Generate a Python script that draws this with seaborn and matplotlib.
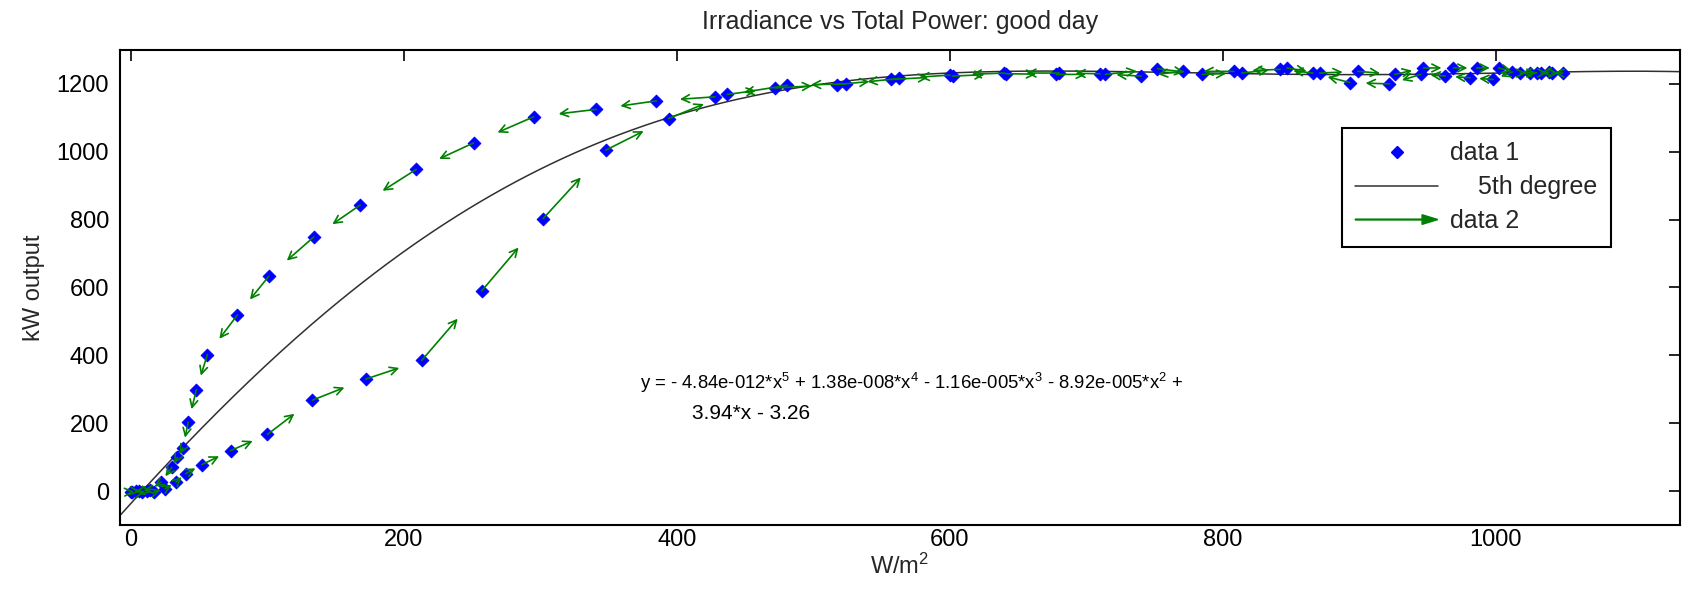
import numpy as np
import matplotlib
matplotlib.use("Agg")
import matplotlib.pyplot as plt
import matplotlib.patches as mpatches
from matplotlib.lines import Line2D
from matplotlib.legend_handler import HandlerPatch
import seaborn as sns

# ---- données (ordre chronologique de la journée) ----
# matin : branche basse, la puissance monte
irr_matin = [0, 4, 8, 12, 17, 25, 33, 40, 52, 73, 100, 133, 172, 213, 257,
             302, 348, 394, 437, 472, 517, 557, 602, 641, 678, 714, 752, 785,
             814, 847, 871, 899, 926, 947, 969, 986, 1002, 1018, 1025, 1033,
             1041, 1049]
kw_matin = [-2, -1, -3, 0, -3, 7, 26, 51, 78, 119, 167, 268, 330, 385, 590,
            803, 1005, 1098, 1169, 1188, 1198, 1213, 1223, 1230, 1228, 1228,
            1245, 1228, 1232, 1247, 1232, 1237, 1228, 1247, 1247, 1247, 1247,
            1232, 1232, 1232, 1232, 1232]

# après-midi : branche haute, la puissance redescend
irr_soir = [1039, 1030, 1012, 998, 981, 963, 945, 922, 893, 866, 842, 808,
            771, 740, 710, 680, 640, 600, 563, 524, 481, 428, 385, 341, 295,
            251, 209, 168, 134, 101, 78, 56, 48, 42, 38, 34, 30, 22, 14, 6, 1]
kw_soir = [1235, 1233, 1235, 1213, 1218, 1223, 1228, 1200, 1204, 1232, 1243,
           1237, 1237, 1223, 1230, 1232, 1232, 1226, 1216, 1200, 1196, 1162,
           1150, 1125, 1103, 1026, 948, 843, 749, 633, 519, 402, 299, 203,
           127, 99, 70, 26, 4, 0, -2]

irr = np.array(irr_matin + irr_soir, dtype=float)
kw = np.array(kw_matin + kw_soir, dtype=float)

# ---- style ----
sns.set_theme(style="white")
plt.rcParams['font.family'] = ['Liberation Sans', 'DejaVu Sans']
plt.rcParams['mathtext.fontset'] = 'custom'
plt.rcParams['mathtext.rm'] = 'Liberation Sans'
plt.rcParams['mathtext.it'] = 'Liberation Sans'

fig = plt.figure(figsize=(16.88, 6.05), dpi=100)
ax = fig.add_axes([0.0711, 0.1322, 0.9242, 0.7852])

# data 1 : points
sns.scatterplot(x=irr, y=kw, marker='D', s=42, color='blue', edgecolor='blue',
                linewidth=0.7, ax=ax, zorder=3, legend=False)

# ajustement polynomial de degré 5
coef = np.polyfit(irr, kw, 5)
x_fit = np.linspace(-8, 1135, 400)
sns.lineplot(x=x_fit, y=np.polyval(coef, x_fit), color='#303030', lw=1.1,
             ax=ax, zorder=2, sort=False, estimator=None, legend=False)

# data 2 : flèches vers le point suivant
for i in range(len(irr) - 1):
    dx = irr[i + 1] - irr[i]
    dy = kw[i + 1] - kw[i]
    ax.annotate("", xy=(irr[i] + 0.6 * dx, kw[i] + 0.6 * dy), xytext=(irr[i], kw[i]),
                arrowprops=dict(arrowstyle='->', color='green', lw=1.2,
                                shrinkA=0, shrinkB=0, mutation_scale=14),
                zorder=4)

ax.text(373, 300, 'y = - 4.84e-012*x$^5$ + 1.38e-008*x$^4$ - 1.16e-005*x$^3$ - 8.92e-005*x$^2$ +',
        fontsize=13.3, va='baseline', ha='left', color='black')
ax.text(411, 212, '3.94*x - 3.26', fontsize=15, va='baseline', ha='left', color='black')

ax.set_xlim(-8, 1135)
ax.set_ylim(-100, 1300)
ax.set_xticks([0, 200, 400, 600, 800, 1000])
ax.set_yticks([0, 200, 400, 600, 800, 1000, 1200])
ax.tick_params(direction='in', length=8, width=1.2, top=True, right=True,
               labelsize=17, colors='black')
ax.tick_params(axis='x', pad=3)
ax.tick_params(axis='y', pad=8)
for sp in ax.spines.values():
    sp.set_color('black')
    sp.set_linewidth(1.5)

ax.set_title('Irradiance vs Total Power: good day', fontsize=18, pad=15)
ax.set_xlabel('W/m$^2$', fontsize=17)
ax.set_ylabel('kW output', fontsize=17)
ax.yaxis.set_label_coords(-0.048, 0.5)
ax.xaxis.set_label_coords(0.5, -0.06)


# légende avec une flèche pour data 2
def fleche(legend, orig_handle, xdescent, ydescent, width, height, fontsize):
    return mpatches.FancyArrow(0, height / 2, width, 0, width=0.6, head_width=height * 0.55,
                               head_length=height * 0.9, length_includes_head=True)


h_pts = Line2D([], [], marker='D', ls='none', color='blue', markersize=6)
h_fit = Line2D([], [], color='#303030', lw=1.1)
h_arr = mpatches.FancyArrow(0, 0, 1, 0, color='green')
leg = ax.legend([h_pts, h_fit, h_arr], ['data 1', '    5th degree', 'data 2'],
                handler_map={mpatches.FancyArrow: HandlerPatch(patch_func=fleche)},
                loc='upper left', bbox_to_anchor=(0.775, 0.863), fontsize=18,
                frameon=True, fancybox=False, edgecolor='black', framealpha=1,
                handlelength=3.3, handletextpad=0.5, labelspacing=0.4,
                borderpad=0.55, borderaxespad=0.5)
leg.get_frame().set_linewidth(1.5)

plt.savefig('out.png', dpi=100)
plt.close()
